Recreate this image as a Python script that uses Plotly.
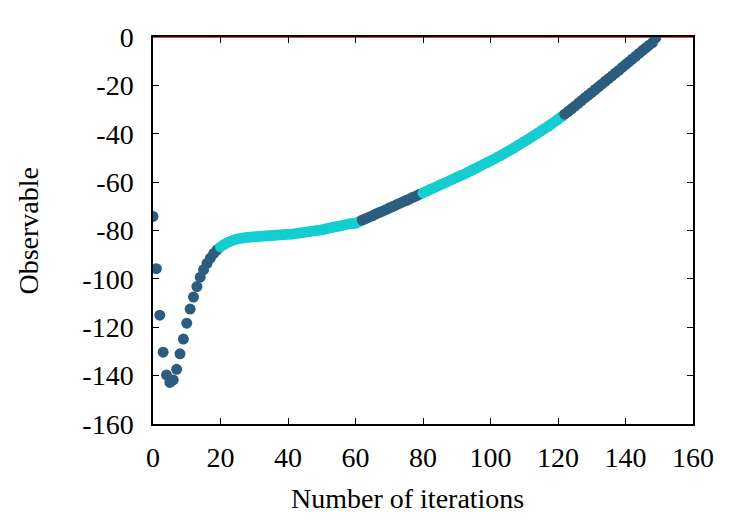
import plotly.graph_objects as go

iterations = list(range(150))
observable = [
    -74.2, -95.8, -115.0, -130.3, -139.7, -142.8, -141.8, -137.4, -131.0, -124.9,
    -118.3, -112.5, -107.5, -103.2, -99.3, -96.2, -93.6, -91.4, -89.5, -88.0,
    -86.8, -85.8, -85.0, -84.4, -83.9, -83.5, -83.2, -83.0, -82.8, -82.7,
    -82.6, -82.5, -82.4, -82.3, -82.2, -82.1, -82.0, -81.9, -81.8, -81.7,
    -81.6, -81.5, -81.3, -81.1, -80.9, -80.7, -80.5, -80.3, -80.1, -79.9,
    -79.7, -79.4, -79.1, -78.8, -78.5, -78.2, -77.9, -77.6, -77.3, -77.1,
    -77.0, -76.4, -75.7, -75.1, -74.5, -73.9, -73.2, -72.6, -72.0, -71.4,
    -70.7, -70.1, -69.5, -68.8, -68.2, -67.6, -67.0, -66.3, -65.7, -65.0,
    -64.4, -63.8, -63.1, -62.5, -61.9, -61.2, -60.6, -60.0, -59.3, -58.7,
    -58.0, -57.4, -56.8, -56.1, -55.4, -54.7, -54.0, -53.3, -52.6, -51.9,
    -51.2, -50.5, -49.7, -49.0, -48.2, -47.4, -46.6, -45.8, -44.9, -44.1,
    -43.2, -42.4, -41.5, -40.6, -39.7, -38.8, -37.9, -37.0, -36.0, -35.0,
    -34.0, -33.0, -31.9, -30.8, -29.7, -28.6, -27.4, -26.3, -25.1, -24.0,
    -22.9, -21.7, -20.6, -19.5, -18.3, -17.2, -16.1, -14.9, -13.8, -12.6,
    -11.4, -10.3, -9.1, -8.0, -6.8, -5.6, -4.5, -3.4, -2.3, -0.3,
]

# phase of each iteration (0 = dark, 1 = cyan)
segment_starts = [0, 20, 62, 80, 122]
segment_phase = [0, 1, 0, 1, 0]

x_ticks = [0, 20, 40, 60, 80, 100, 120, 140, 160]
x_ticktext = ["0", "20", "40", "60", "80", "100", "120", "140", "160"]
y_ticks = [0, -20, -40, -60, -80, -100, -120, -140, -160]
y_ticktext = ["0", "-20", "-40", "-60", "-80", "-100", "-120", "-140", "-160"]

x_title = "Number of iterations"
y_title = "Observable"

DARK = "#2d5d7e"
CYAN = "#14cdd0"
FONT = "Liberation Serif"

phase = []
for i in iterations:
    p = 0
    for s, ph in zip(segment_starts, segment_phase):
        if i >= s:
            p = ph
    phase.append(p)
colors = [CYAN if p else DARK for p in phase]

fig = go.Figure()
fig.add_trace(go.Scatter(
    x=[0, 160], y=[0, 0], mode="lines",
    line=dict(color="#e00000", width=1.5), hoverinfo="skip",
))
fig.add_trace(go.Scatter(
    x=iterations, y=observable, mode="markers",
    marker=dict(size=11, color=colors, line=dict(width=0)),
))

axis_common = dict(
    showgrid=False, zeroline=False, showline=True, linecolor="black", linewidth=1.5,
    mirror="ticks", ticks="inside", ticklen=6, tickcolor="black", tickwidth=1,
    tickfont=dict(family=FONT, size=28, color="black"),
)
fig.update_xaxes(range=[0, 160], tickvals=x_ticks, ticktext=x_ticktext,
                 ticklabelstandoff=8, **axis_common)
fig.update_yaxes(range=[-160, 0], tickvals=y_ticks, ticktext=y_ticktext,
                 ticklabelstandoff=12, **axis_common)

fig.add_annotation(text=x_title, xref="paper", yref="paper", x=0.472, y=0,
                   xanchor="center", yanchor="middle", yshift=-74, showarrow=False,
                   font=dict(family=FONT, size=28, color="black"))
fig.add_annotation(text=y_title, xref="paper", yref="paper", x=0, y=0.5,
                   xanchor="center", yanchor="middle", xshift=-125, textangle=-90,
                   showarrow=False, font=dict(family=FONT, size=28, color="black"))

fig.update_layout(
    width=750, height=525, showlegend=False,
    margin=dict(l=153, r=57, t=37, b=101),
    paper_bgcolor="white", plot_bgcolor="white",
)
fig.write_html("out.html")
